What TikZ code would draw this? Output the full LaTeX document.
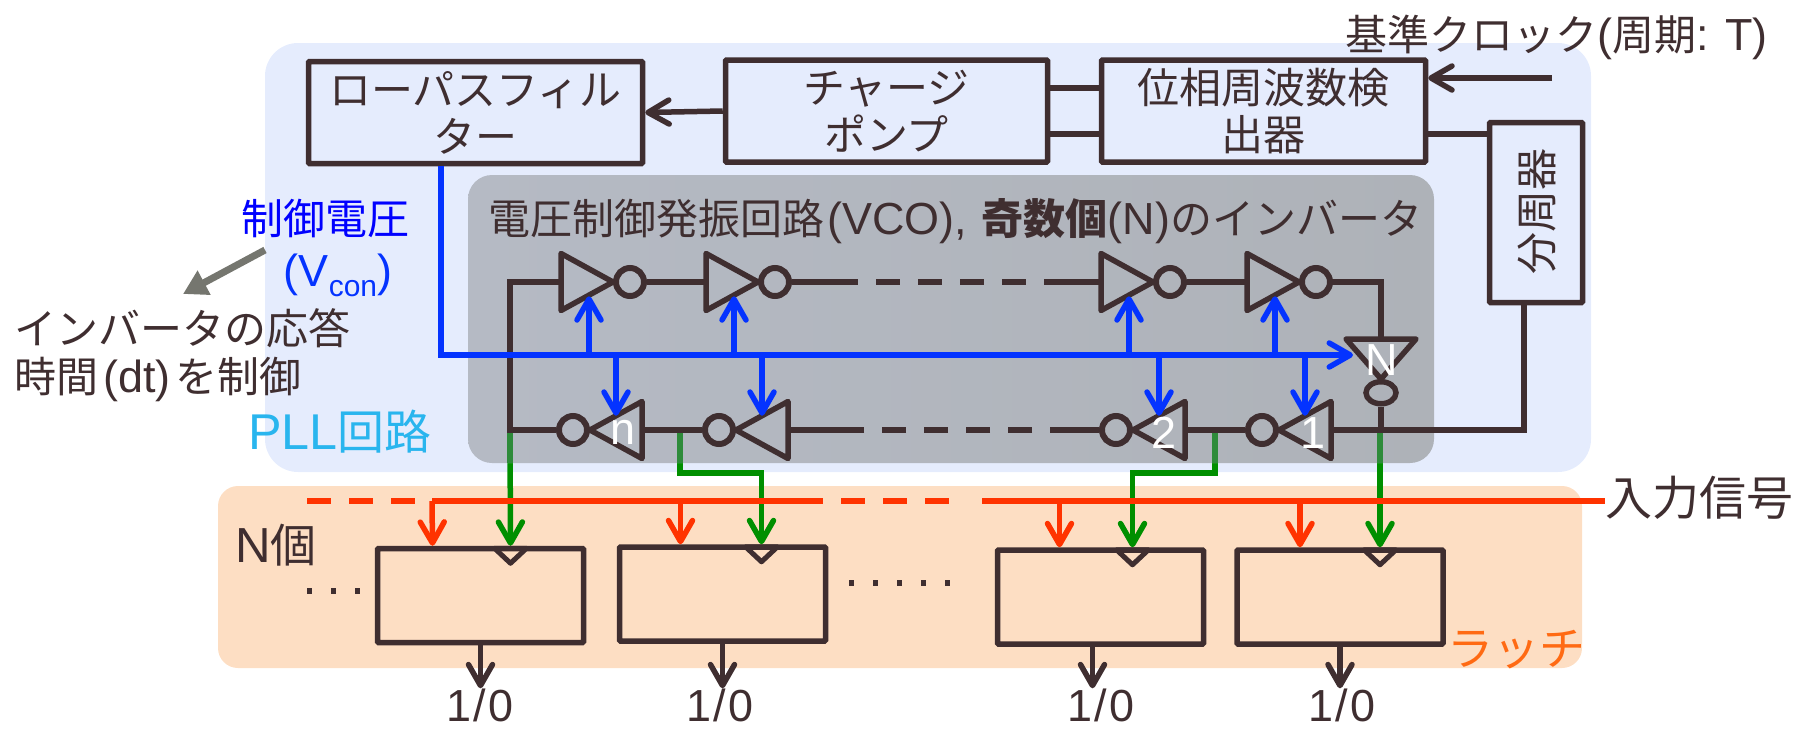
\documentclass[tikz,border=0pt]{standalone}
\usepackage{xcolor}
\usepackage{fontspec}
\setmainfont[Scale=1.07]{Liberation Sans}
\newfontfamily\jpfont{Noto Sans CJK JP}
\newcommand{\ja}[1]{{\jpfont #1}}
\definecolor{ink}{HTML}{3F2E30}
\definecolor{pllbg}{HTML}{E5ECFD}
\definecolor{vcoleft}{HTML}{B5BAC4}
\definecolor{vcoright}{HTML}{AEB2B8}
\definecolor{latchbg}{HTML}{FDDEC3}
\definecolor{ctlblue}{HTML}{0433FF}
\definecolor{clkgreen}{HTML}{008F00}
\definecolor{fadegreen}{HTML}{2E8B3A}
\definecolor{datared}{HTML}{FF3300}
\definecolor{plltext}{HTML}{29B5EE}
\definecolor{latchtext}{HTML}{FF6A13}
\definecolor{grayarrow}{HTML}{75766F}
\usetikzlibrary{positioning,arrows.meta,shapes.geometric}

\begin{document}
\begin{tikzpicture}[
    x=1pt, y=-1pt,
    panel/.style = {inner sep=0pt, rounded corners=#1},
    box/.style = {draw=ink, line width=5.5pt, minimum height=102pt, align=center, inner sep=0pt, text=ink, rounded corners=1pt},
    lab/.style = {inner sep=0pt, text=ink, align=left},
    big/.style = {font=\fontsize{42pt}{47pt}\selectfont},
    large/.style = {font=\fontsize{46pt}{50pt}\selectfont},
    inv/.style = {draw=ink, line width=5.5pt, line join=round, isosceles triangle, isosceles triangle stretches, minimum width=57pt, minimum height=52pt, inner sep=0pt, outer sep=0pt, anchor=lower side},
    bub/.style = {draw=ink, line width=6pt, circle, minimum size=28pt, inner sep=0pt},
    latch/.style = {draw=ink, line width=5.5pt, minimum width=206pt, minimum height=94pt, inner sep=0pt, rounded corners=1pt},
    clk/.style = {draw=ink, line width=5pt, line join=round, isosceles triangle, isosceles triangle stretches, shape border rotate=270, minimum width=32pt, minimum height=15pt, inner sep=0pt, outer sep=0pt, anchor=lower side},
    wire/.style = {draw=ink, line width=5.5pt},
    ctl/.style = {draw=ctlblue, line width=5.5pt},
    clkline/.style = {draw=clkgreen, line width=5.5pt},
    fade/.style = {draw=fadegreen, line width=5.5pt},
    data/.style = {draw=datared, line width=5.5pt},
    gapdash/.style = {dash pattern=on 0pt off 18pt on 24pt off 0pt},
    > = {Straight Barb[length=21pt, width=24pt, round]}
]
\useasboundingbox (0,0) rectangle (1800,729);

\node (pll) [panel=33pt, fill=pllbg, minimum width=1326pt, minimum height=429pt] at (928,257.5) {};
\node (lbg) [panel=20pt, fill=latchbg, minimum width=1364pt, minimum height=182pt] at (900,577) {};

\coordinate (loop) at (510,355);
\coordinate (g1a) at (510,433);
\coordinate (g2a) at (680,433);
\coordinate (g2b) at (680,473);
\coordinate (g3a) at (1215,433);
\coordinate (g3b) at (1215,473);
\coordinate (g4a) at (1380,433);

\node (lat1) [latch] at (480.5,595.5) {};
\node (lat2) [latch] at (722.5,594) {};
\node (lat3) [latch] at (1100.5,597) {};
\node (lat4) [latch] at (1340,597) {};

\draw[clkline,->] (g1a) -- ([xshift=30pt]lat1.north);
\draw[clkline,->] (g2a) -- (g2b) -| ([xshift=39pt]lat2.north);
\draw[clkline,->] (g3a) -- (g3b) -| ([xshift=32pt]lat3.north);
\draw[clkline,->] (g4a) -- ([xshift=40pt]lat4.north);

\node (vco) [panel=24pt, left color=vcoleft, right color=vcoright, minimum width=966pt, minimum height=288pt] at (951,319) {};
\draw[fade] (g1a) -- (g1a |- vco.south);
\draw[fade] (g2a) -- (g2a |- vco.south);
\draw[fade] (g3a) -- (g3a |- vco.south);
\draw[fade] (g4a) -- (g4a |- vco.south);

\node (lpf) [box, big, minimum width=334pt] at (475.5,112.5) {\ja{ローパスフィル}\\\ja{ター}};
\node (cp) [box, big, minimum width=322pt] at (886.5,111) {\ja{チャージ}\\\ja{ポンプ}};
\node (pfd) [box, big, minimum width=324pt] at (1263.5,111) {\ja{位相周波数検}\\\ja{出器}};
\node (div) [box, minimum width=93pt, minimum height=180pt] at (1536,212.5) {};
\node (divlab) [lab, big, rotate=90] at (1537,211) {\ja{分周器}};

\node (clklab) [lab, big, anchor=west] at (1345,37) {\ja{基準クロック}(\ja{周期}: T)};
\coordinate (clkin) at (1552,78);
\draw[wire,->] (clkin) -- (clkin -| pfd.east);
\draw[wire,->] (cp.west) -- (lpf.east);
\draw[wire] ([yshift=23pt]cp.east) -- ([yshift=23pt]pfd.west);
\draw[wire] ([yshift=-23pt]cp.east) -- ([yshift=-23pt]pfd.west);
\draw[wire] ([yshift=-23pt]pfd.east) -- ([yshift=-23pt]pfd.east -| div.west);

\node (vcolab) [lab, big, anchor=west] at (488,221) {\ja{電圧制御発振回路}\hspace{3pt}(VCO),\hspace{2pt} \textbf{\ja{奇数個}}\hspace{0.5pt}(N)\hspace{0.5pt}\ja{のインバータ}};

\node (t1) [inv] at (561,282) {};
\node (c1) [bub, right=0pt of t1.apex] {};
\node (t2) [inv] at (706,282) {};
\node (c2) [bub, right=0pt of t2.apex] {};
\node (t3) [inv] at (1101,282) {};
\node (c3) [bub, right=0pt of t3.apex] {};
\node (t4) [inv] at (1247,282) {};
\node (c4) [bub, right=0pt of t4.apex] {};

\node (tn) [inv, shape border rotate=270, minimum width=70pt, minimum height=40pt] at (1381,339) {};
\node (cn) [draw=ink, line width=5.5pt, ellipse, minimum width=30pt, minimum height=22pt, inner sep=0pt, below=0pt of tn.apex] {};

\node (b1) [inv, shape border rotate=180] at (1331,430) {};
\node (d1) [bub, left=0pt of b1.apex] {};
\node (b2) [inv, shape border rotate=180] at (1185,430) {};
\node (d2) [bub, left=0pt of b2.apex] {};
\node (bm) [inv, shape border rotate=180] at (788,430) {};
\node (dm) [bub, left=0pt of bm.apex] {};
\node (bn) [inv, shape border rotate=180] at (642,430) {};
\node (dn) [bub, left=0pt of bn.apex] {};

\coordinate (u1) at (858,282);
\coordinate (u2) at (1044,282);
\coordinate (w1) at (863,430);
\coordinate (w2) at (1050,430);

\draw[wire] (c1.east) -- (t2.lower side);
\draw[wire] (c2.east) -- (u1);
\draw[wire,gapdash] (u1) -- (u2);
\draw[wire] (u2) -- (t3.lower side);
\draw[wire] (c3.east) -- (t4.lower side);
\draw[wire] (c4.east) -| (tn.lower side);
\draw[wire] (cn.south) -- (cn.south |- b1.lower side);
\draw[wire] ([xshift=-12pt]div.south) |- (b1.lower side);
\draw[wire] (d1.west) -- (b2.lower side);
\draw[wire] (d2.west) -- (w2);
\draw[wire,gapdash] (w2) -- (w1);
\draw[wire] (w1) -- (bm.lower side);
\draw[wire] (dm.west) -- (bn.lower side);
\draw[wire] (dn.west) -| (loop) |- (t1.lower side);

\coordinate (busin) at (441,355);
\coordinate (busend) at (1353,355);
\draw[ctl,->] (lpf.south -| busin) |- (busend);
\draw[ctl,->] ([xshift=2pt]t1.right side |- busin) -- ([xshift=2pt]t1.right side);
\draw[ctl,->] ([xshift=2pt]t2.right side |- busin) -- ([xshift=2pt]t2.right side);
\draw[ctl,->] ([xshift=2pt]t3.right side |- busin) -- ([xshift=2pt]t3.right side);
\draw[ctl,->] ([xshift=2pt]t4.right side |- busin) -- ([xshift=2pt]t4.right side);
\draw[ctl,->] (bn.right side |- busin) -- (bn.right side);
\draw[ctl,->] (bm.right side |- busin) -- (bm.right side);
\draw[ctl,->] (b2.right side |- busin) -- (b2.right side);
\draw[ctl,->] (b1.right side |- busin) -- (b1.right side);

\node (nlab) [lab, big, text=white] at (623,432) {n};
\node (mlab) [lab, big, text=white] at (1164,433) {2};
\node (olab) [lab, big, text=white] at (1313,433) {1};
\node (tnlab) [lab, big, text=white] at (1382,360) {N};

\node (k1) [clk] at ([xshift=30pt,yshift=-2.5pt]lat1.north) {};
\node (k2) [clk] at ([xshift=39pt,yshift=-2.5pt]lat2.north) {};
\node (k3) [clk] at ([xshift=32pt,yshift=-2.5pt]lat3.north) {};
\node (k4) [clk] at ([xshift=40pt,yshift=-2.5pt]lat4.north) {};

\node (inlab) [lab, font=\fontsize{47pt}{50pt}\selectfont, anchor=west] at (1605,498) {\ja{入力信号}};
\coordinate (ina) at (307,501);
\coordinate (inb) at (432,501);
\coordinate (inc) at (823,501);
\coordinate (ind) at (949,501);
\coordinate (ine) at (982,501);
\draw[data,dash pattern=on 24pt off 18pt] (ina) -- (inb);
\draw[data] (inb) -- (inc);
\draw[data,gapdash] (inc) -- (ind);
\draw[data] (ine) -- (inlab.west |- ine);
\draw[data,->] (inb) -- ([xshift=-48pt]lat1.north);
\draw[data,->] ([xshift=-42pt]lat2.north |- inb) -- ([xshift=-42pt]lat2.north);
\draw[data,->] ([xshift=-41pt]lat3.north |- inb) -- ([xshift=-41pt]lat3.north);
\draw[data,->] ([xshift=-40pt]lat4.north |- inb) -- ([xshift=-40pt]lat4.north);

\coordinate (dl1) at (307,591);
\coordinate (dl2) at (362,591);
\coordinate (dr1) at (849,583);
\coordinate (dr2) at (952,583);
\draw[wire,line width=6pt,dash pattern=on 5pt off 19pt] (dl1) -- (dl2);
\draw[wire,line width=6pt,dash pattern=on 5pt off 19pt] (dr1) -- (dr2);

\node (out1) [lab, big] at (480,705) {1\hspace{2pt}/\hspace{2pt}0};
\node (out2) [lab, big] at (720,705) {1\hspace{2pt}/\hspace{2pt}0};
\node (out3) [lab, big] at (1101,705) {1\hspace{2pt}/\hspace{2pt}0};
\node (out4) [lab, big] at (1342,705) {1\hspace{2pt}/\hspace{2pt}0};
\draw[wire,->] (lat1.south) -- (lat1.south |- out1.north);
\draw[wire,->] (lat2.south) -- (lat2.south |- out2.north);
\draw[wire,->] ([xshift=-8pt]lat3.south) -- ([xshift=-8pt]lat3.south |- out3.north);
\draw[wire,->] (lat4.south) -- (lat4.south |- out4.north);

\node (nlatch) [lab, large, anchor=west] at (235,545) {N\ja{個}};
\node (latchlab) [lab, large, text=latchtext, anchor=east] at (1586,650) {\ja{ラッチ}};
\node (plllab) [lab, font=\fontsize{47pt}{50pt}\selectfont, text=plltext, anchor=west] at (248,432) {PLL\ja{回路}};

\node (vconj) [lab, big, text=blue, anchor=center] at (325,219) {\ja{制御電圧}};
\node (vcon) [lab, big, text=ctlblue, anchor=center] at (338,275) {(V\raisebox{-10pt}{\fontsize{28pt}{28pt}\selectfont con})};
\node (resp) [lab, font=\fontsize{42pt}{48pt}\selectfont, anchor=west] at (14,355) {\ja{インバータの応答}\\\ja{時間}\hspace{5pt}(dt)\hspace{5pt}\ja{を制御}};
\coordinate (ga) at (265,250);
\coordinate (gb) at (183,294);
\draw[draw=grayarrow, line width=7pt, -{Triangle[length=24pt,width=26pt]}] (ga) -- (gb);
\end{tikzpicture}
\end{document}
